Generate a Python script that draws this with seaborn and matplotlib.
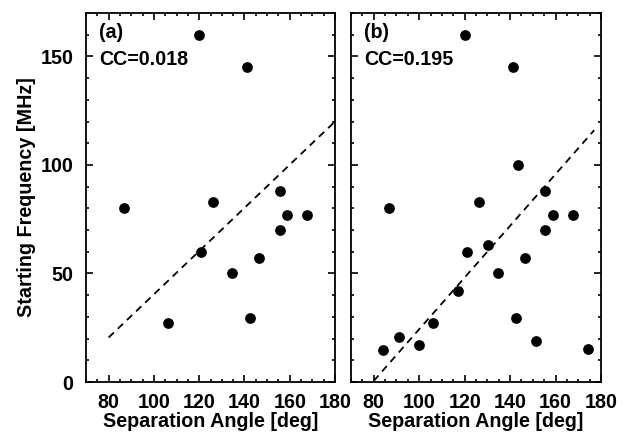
import numpy as np
import pandas as pd
import matplotlib
matplotlib.use("Agg")
import matplotlib.pyplot as plt
from matplotlib.ticker import MultipleLocator
import seaborn as sns

# panel (a) points
angle_a = [87.0, 120.1, 141.2, 126.3, 121.0, 106.3, 134.3, 142.4, 146.4, 155.6, 155.6, 158.6, 167.7]
freq_a = [80, 160, 145, 83, 60, 27.4, 50, 29.5, 57, 88, 70, 77, 77]

# panel (b) points
angle_b = [84.0, 91.0, 100.0, 106.2, 86.9, 120.0, 141.2, 143.4, 126.3, 121.0, 130.4,
           116.9, 134.5, 142.4, 146.4, 151.4, 155.5, 155.5, 158.7, 167.6, 174.4]
freq_b = [14.6, 20.8, 16.9, 27.4, 80, 160, 145, 100, 83, 60, 63,
          42, 50, 29.5, 57, 18.9, 88, 70, 77, 77, 15]

# dashed fit lines (end points)
fit_x_a = [80, 180]
fit_y_a = [20.5, 120]
fit_x_b = [80, 177]
fit_y_b = [0.5, 116]

labels = ["(a)", "(b)"]
cc_text = ["CC=0.018", "CC=0.195"]

sns.set_style("ticks")
plt.rcParams["font.family"] = ["Liberation Sans", "DejaVu Sans"]
plt.rcParams["font.weight"] = "bold"
plt.rcParams["axes.labelweight"] = "bold"
for k in ["text.color", "axes.labelcolor", "xtick.color", "ytick.color", "axes.edgecolor"]:
    plt.rcParams[k] = "black"

fs = 14.2

fig = plt.figure(figsize=(6.28, 4.32), dpi=100)
ax_a = fig.add_axes([86 / 628, 1 - 382 / 432, 249 / 628, 369 / 432])
ax_b = fig.add_axes([351 / 628, 1 - 382 / 432, 250 / 628, 369 / 432])

data = [(ax_a, angle_a, freq_a, fit_x_a, fit_y_a),
        (ax_b, angle_b, freq_b, fit_x_b, fit_y_b)]

for i, (ax, xs, ys, fx, fy) in enumerate(data):
    df = pd.DataFrame({"angle": xs, "freq": ys})
    sns.scatterplot(x="angle", y="freq", data=df, ax=ax, color="black",
                    s=60, edgecolor="black", linewidth=0, zorder=3)
    sns.lineplot(x=fx, y=fy, ax=ax, color="black", lw=1.3,
                 linestyle=(0, (4, 3)))
    ax.set_xlim(70, 180)
    ax.set_ylim(0, 170)
    ax.xaxis.set_major_locator(MultipleLocator(20))
    ax.xaxis.set_minor_locator(MultipleLocator(5))
    ax.yaxis.set_major_locator(MultipleLocator(50))
    ax.yaxis.set_minor_locator(MultipleLocator(10))
    ax.tick_params(which="both", direction="in", top=True, right=True,
                   labelsize=fs, width=1.2, color="black", labelcolor="black")
    ax.tick_params(which="major", length=5)
    ax.tick_params(axis="x", which="major", pad=8)
    ax.tick_params(axis="y", which="major", pad=9)
    ax.tick_params(which="minor", length=2.5)
    for sp in ax.spines.values():
        sp.set_linewidth(1.3)
        sp.set_color("black")
    ax.set_xlabel("Separation Angle [deg]", fontsize=fs, labelpad=0)
    ax.text(0.052, 0.946, labels[i], transform=ax.transAxes, fontsize=fs,
            fontweight="bold", va="center", ha="left")
    ax.text(0.052, 0.873, cc_text[i], transform=ax.transAxes, fontsize=fs,
            fontweight="bold", va="center", ha="left")

ax_a.set_ylabel("Starting Frequency [MHz]", fontsize=fs, labelpad=3)
ax_b.set_ylabel("")
ax_b.tick_params(labelleft=False)

fig.savefig("out.png", dpi=100)
